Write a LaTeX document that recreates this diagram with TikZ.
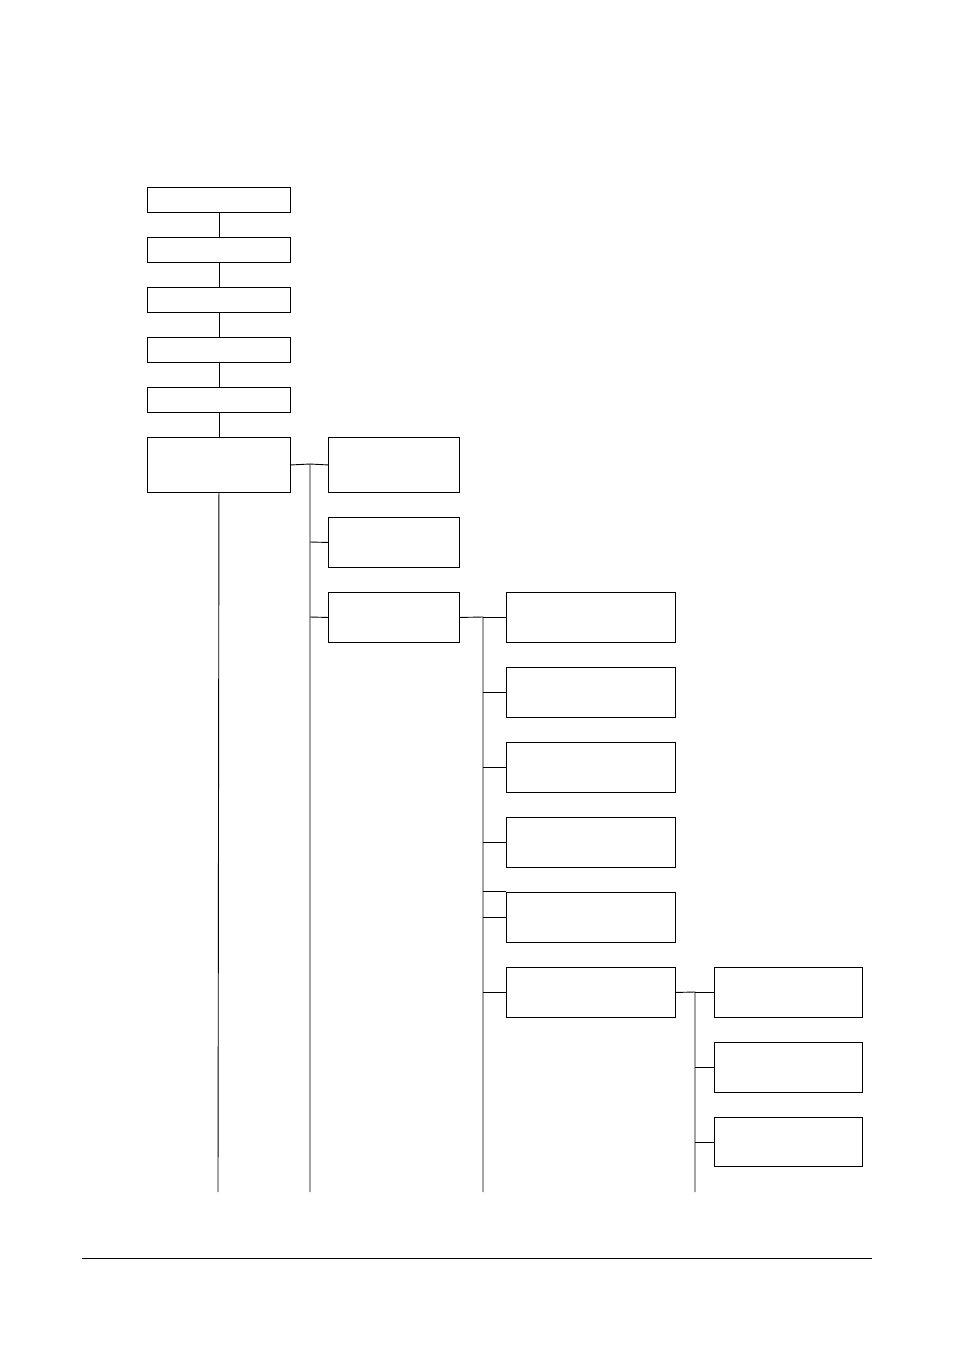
\documentclass[tikz,border=0pt]{standalone}
\begin{document}
\begin{tikzpicture}[x=1pt,y=-1pt,line width=0.9pt,
  bx/.style={draw,black,fill=white,minimum width=0pt}]
\useasboundingbox (0,0) rectangle (954,1352);
\def\bxx(#1,#2,#3,#4)#5{\node[bx,inner sep=0pt,minimum width=#3-#1,minimum height=#4-#2,anchor=north west] (#5) at (#1,#2) {};}
% column 1
\bxx(147,187,290,212){a1}
\bxx(147,237,290,262){a2}
\bxx(147,287,290,312){a3}
\bxx(147,337,290,362){a4}
\bxx(147,387,290,412){a5}
\bxx(147,437,290,492){a6}
\draw (a1.south) -- (a2.north);
\draw (a2.south) -- (a3.north);
\draw (a3.south) -- (a4.north);
\draw (a4.south) -- (a5.north);
\draw (a5.south) -- (a6.north);
\coordinate (ea) at (218,1192);
\draw (a6.south) -- (ea);
% column 2
\bxx(328,437,459,492){b1}
\bxx(328,517,459,567){b2}
\bxx(328,592,459,642){b3}
\coordinate (sb) at (310,464);
\coordinate (eb) at (310,1192);
\draw (a6.east) -- (sb) -- (eb);
\draw (sb) -- (b1.west);
\draw (310,542) -- (b2.west);
\draw (310,617) -- (b3.west);
% column 3
\bxx(506,592,675,642){c1}
\bxx(506,667,675,717){c2}
\bxx(506,742,675,792){c3}
\bxx(506,817,675,867){c4}
\bxx(506,892,675,942){c5}
\bxx(506,967,675,1017){c6}
\coordinate (sc) at (483,617);
\coordinate (ec) at (483,1192);
\draw (b3.east) -- (sc) -- (ec);
\foreach \n in {c1,c2,c3,c4,c5,c6} \draw (483,0 |- \n.west) -- (\n.west);
\draw (483,891) -- (506,891);
% column 4
\bxx(714,967,862,1017){d1}
\bxx(714,1042,862,1092){d2}
\bxx(714,1117,862,1166){d3}
\coordinate (sd) at (695,992);
\coordinate (ed) at (695,1192);
\draw (c6.east) -- (sd) -- (ed);
\foreach \n in {d1,d2,d3} \draw (695,0 |- \n.west) -- (\n.west);
% footer rule
\draw[line width=0.7pt] (82,1258) -- (872,1258);
\end{tikzpicture}
\end{document}
